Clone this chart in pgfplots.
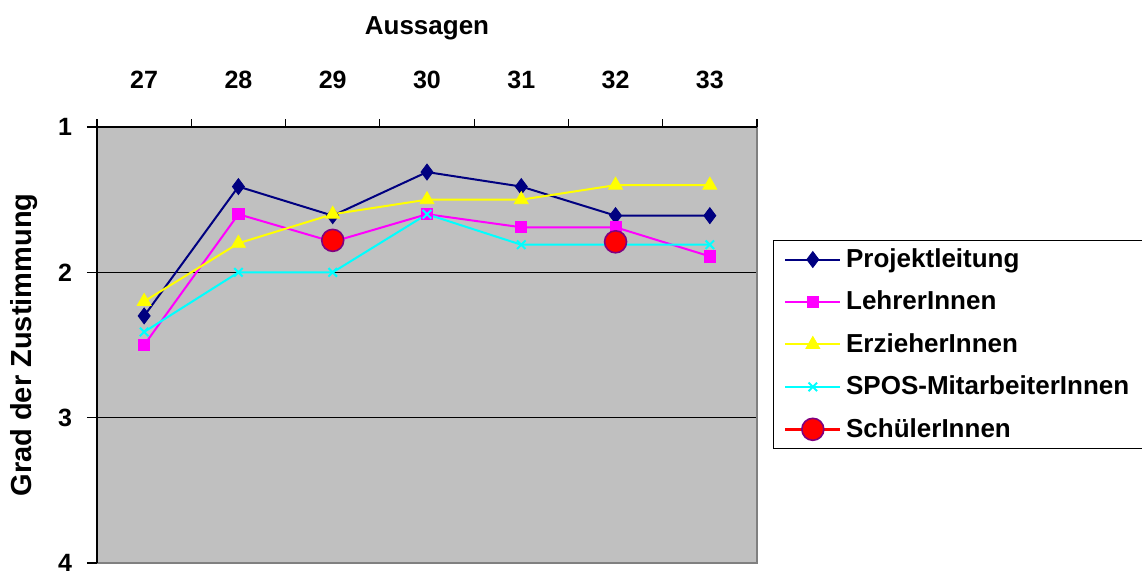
\documentclass[border=0pt]{standalone}
\usepackage{pgfplots}
\pgfplotsset{compat=1.18}
\usepackage{fontspec}
\setmainfont{Liberation Sans}

\definecolor{bgray}{RGB}{192,192,192}
\definecolor{pnavy}{RGB}{0,0,128}
\definecolor{pmag}{RGB}{255,0,255}
\definecolor{pyel}{RGB}{255,255,0}
\definecolor{pcyan}{RGB}{0,255,255}
\definecolor{pred}{RGB}{255,0,0}
\definecolor{ppurp}{RGB}{128,0,128}

\begin{document}
\begin{tikzpicture}
\useasboundingbox (0,0) rectangle (571pt,-285.5pt);
\begin{axis}[
  at={(48.5pt,-63.5pt)}, anchor=north west,
  scale only axis, width=330pt, height=218pt,
  xmin=26.5, xmax=33.5, ymin=1, ymax=4,
  y dir=reverse,
  axis line style={draw=none},
  axis background/.style={fill=bgray},
  clip=false,
  xtick={27,...,33},
  minor xtick={26.5,27.5,...,33.5},
  major x tick style={draw=none},
  minor x tick style={black, line width=0.6pt},
  minor tick length=4pt,
  xtick pos=upper,
  xticklabel pos=upper,
  tick align=outside,
  ytick={1,2,3,4},
  ytick pos=left,
  major tick length=5pt,
  y tick style={black, line width=0.6pt},
  ymajorgrids,
  major grid style={black, line width=0.8pt},
  /pgf/number format/assume math mode=true,
  ticklabel style={font=\bfseries\fontsize{12.5}{14}\selectfont},
  xticklabel style={anchor=center, yshift=18.5pt},
  yticklabel style={anchor=center, xshift=-11pt},
  xlabel={Aussagen},
  xlabel style={at={(axis description cs:0.5,1)}, anchor=center, yshift=49.5pt,
    font=\bfseries\fontsize{13}{15}\selectfont},
  ylabel={Grad der Zustimmung},
  ylabel style={at={(axis description cs:-0.11,0.5)}, anchor=center,
    font=\bfseries\fontsize{14.5}{16}\selectfont},
  legend image code/.code={
    \draw[mark repeat=2,mark phase=2] plot coordinates {(0pt,0pt) (13.75pt,0pt) (27.5pt,0pt)};},
  legend style={at={(axis description cs:1.024,0.741)}, anchor=north west,
    draw=black, line width=0.7pt, inner xsep=5pt, inner ysep=2pt,
    font=\bfseries\fontsize{13}{15}\selectfont,
    row sep=6.3pt,
    cells={anchor=west}},
  unbounded coords=jump,
]
\addplot[pnavy, line width=1pt, mark=diamond*, mark size=4pt,
  mark options={fill=pnavy, draw=pnavy, line width=0.4pt}]
  coordinates {(27,2.30) (28,1.41) (29,1.61) (30,1.31) (31,1.41) (32,1.61) (33,1.61)};
\addplot[pmag, line width=1pt, mark=square*, mark size=2.8pt,
  mark options={fill=pmag, draw=pmag, line width=0.4pt}]
  coordinates {(27,2.50) (28,1.60) (29,1.79) (30,1.60) (31,1.69) (32,1.69) (33,1.89)};
\addplot[pyel, line width=1pt, mark=triangle*, mark size=4pt,
  mark options={fill=pyel, draw=pyel, line width=0.4pt}]
  coordinates {(27,2.20) (28,1.80) (29,1.60) (30,1.50) (31,1.50) (32,1.40) (33,1.40)};
\addplot[pcyan, line width=1pt, mark=x, mark size=3pt,
  mark options={draw=pcyan, line width=1pt}]
  coordinates {(27,2.41) (28,2.00) (29,2.00) (30,1.60) (31,1.81) (32,1.81) (33,1.81)};
\addplot[pred, line width=1.8pt, mark=*, mark size=5.5pt,
  mark options={fill=pred, draw=ppurp, line width=0.8pt}]
  coordinates {(27,nan) (28,nan) (29,1.78) (30,nan) (31,nan) (32,1.79) (33,nan)};
\legend{Projektleitung, LehrerInnen, ErzieherInnen, SPOS-MitarbeiterInnen, SchülerInnen}
\draw[gray, line width=1pt] (axis cs:33.5,1) -- (axis cs:33.5,4) -- (axis cs:26.5,4);
\draw[black, line width=1pt] (axis cs:26.5,4) -- (axis cs:26.5,1) -- (axis cs:33.5,1);
\end{axis}
\end{tikzpicture}
\end{document}
